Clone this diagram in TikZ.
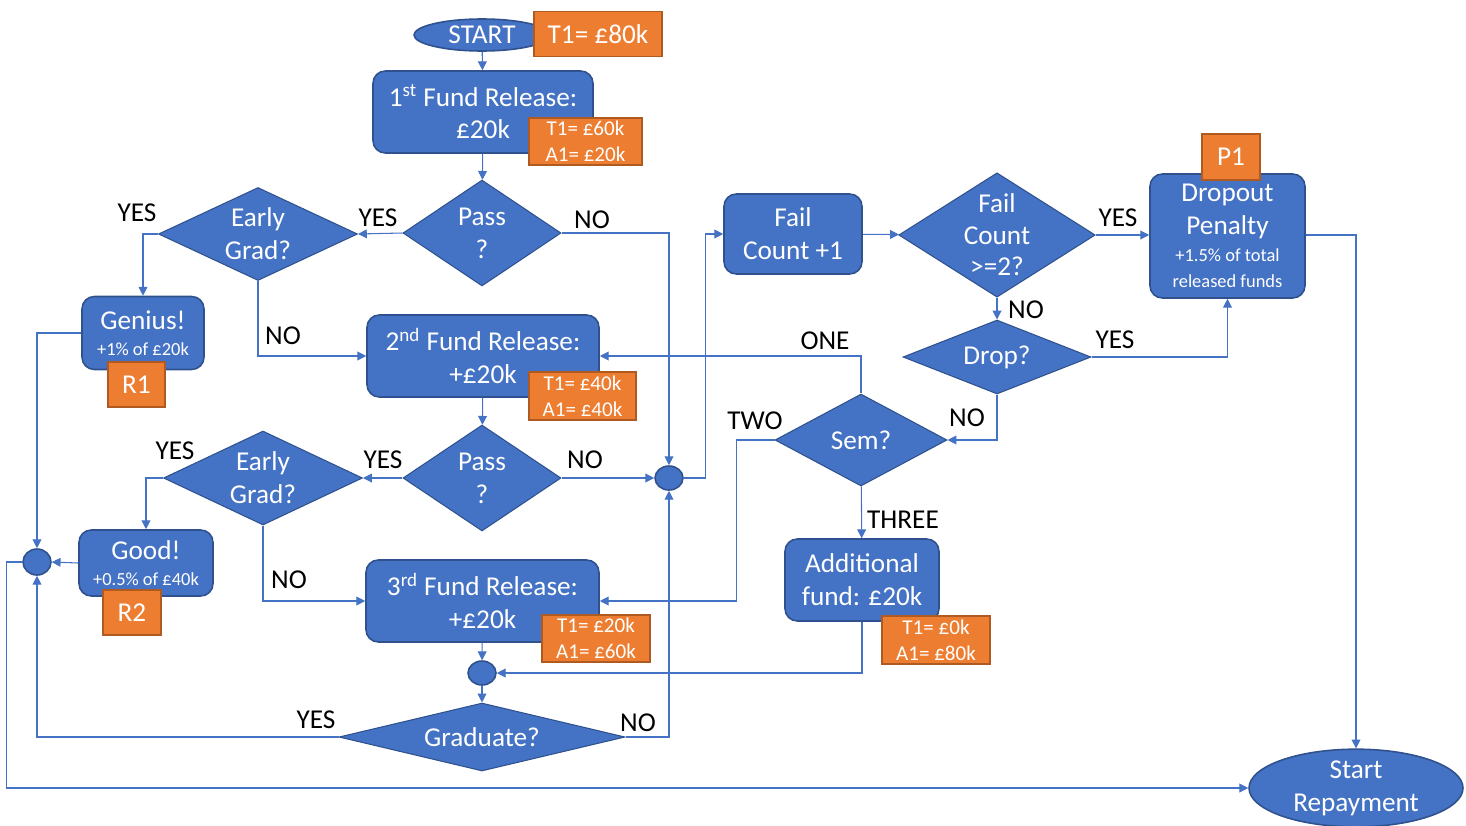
\documentclass[tikz,border=0pt]{standalone}
\usepackage{fontspec}
\setmainfont{Carlito}
\usepackage{tikz}
\usetikzlibrary{shapes.geometric, arrows.meta, positioning, calc}
\definecolor{boxblue}{HTML}{4472C4}
\definecolor{boxedge}{HTML}{2F528F}
\definecolor{tagorange}{HTML}{ED7D31}
\definecolor{tagedge}{HTML}{AE5A21}
\newcommand{\bigtxt}{\fontsize{15.5}{18.7}\selectfont}
\newcommand{\smalltxt}{\fontsize{10.5}{12.5}\selectfont}
\newcommand{\tagtxt}{\fontsize{12}{14.7}\selectfont}

\begin{document}
\begin{tikzpicture}[
  x=0.02cm, y=-0.02cm,
  font=\bigtxt,
  block/.style={rectangle, rounded corners=7pt, draw=boxedge, line width=0.9pt, fill=boxblue, text=white, align=center, inner sep=0pt},
  decision/.style={diamond, draw=boxedge, line width=0.6pt, fill=boxblue, text=white, align=center, inner sep=0pt},
  termin/.style={ellipse, draw=boxedge, line width=0.9pt, fill=boxblue, text=white, align=center, inner sep=0pt},
  mergept/.style={ellipse, draw=boxedge, line width=0.9pt, fill=boxblue, minimum width=0.56cm, minimum height=0.48cm, inner sep=0pt},
  tagbox/.style={rectangle, draw=tagedge, line width=0.9pt, fill=tagorange, text=white, align=center, inner sep=0pt},
  conn/.style={-{Triangle[length=5pt,width=5pt]}, draw=boxblue, line width=0.6pt},
  lbl/.style={text=black, inner sep=0pt}
]
  \useasboundingbox (0,0) rectangle (1466,825);

  % Départ
  \node[termin, minimum width=2.72cm, minimum height=0.64cm] (start) at (482,35) {START};
  \node[tagbox, minimum width=2.56cm, minimum height=0.9cm] (t0) at (598,34) {T1= £80k};

  % Premier versement
  \node[block, minimum width=4.4cm, minimum height=1.64cm] (fund1) at (483,112) {1\textsuperscript{st} Fund Release:\\£20k};
  \node[tagbox, minimum width=2.26cm, minimum height=0.94cm, font=\tagtxt] (tag1) at (585.5,141.5) {T1= £60k\\A1= £20k};
  \node[decision, aspect=1.49, minimum width=3.16cm, minimum height=2.12cm] (pass1) at (482,233) {Pass\\?};
  \node[decision, aspect=2.14, minimum width=3.98cm, minimum height=1.86cm] (eg1) at (258,234) {Early\\Grad?};
  \node[block, minimum width=2.44cm, minimum height=1.46cm] (genius) at (143,333) {Genius!\\[-4pt]{\smalltxt +1\% of £20k}};
  \node[tagbox, minimum width=1.14cm, minimum height=0.9cm] (r1) at (136.5,384.5) {R1};

  % Deuxième versement
  \node[block, minimum width=4.64cm, minimum height=1.64cm] (fund2) at (483,356) {2\textsuperscript{nd} Fund Release:\\+£20k};
  \node[tagbox, minimum width=2.14cm, minimum height=0.96cm, font=\tagtxt] (tag2) at (582.5,396) {T1= £40k\\A1= £40k};
  \node[decision, aspect=1.49, minimum width=3.16cm, minimum height=2.12cm] (pass2) at (482,478) {Pass\\?};
  \node[decision, aspect=2.14, minimum width=3.98cm, minimum height=1.88cm] (eg2) at (263,478) {Early\\Grad?};
  \node[block, minimum width=2.68cm, minimum height=1.32cm] (good) at (146,563) {Good!\\[-4pt]{\smalltxt +0.5\% of £40k}};
  \node[tagbox, minimum width=1.16cm, minimum height=0.9cm] (r2) at (132,612.5) {R2};

  % Troisième versement
  \node[block, minimum width=4.66cm, minimum height=1.64cm] (fund3) at (482.5,601) {3\textsuperscript{rd} Fund Release:\\+£20k};
  \node[tagbox, minimum width=2.16cm, minimum height=0.94cm, font=\tagtxt] (tag3) at (596,638.5) {T1= £20k\\A1= £60k};
  \node[mergept] (merge3) at (482,673) {};
  \node[decision, aspect=4.2, minimum width=5.72cm, minimum height=1.36cm] (grad) at (482,737) {Graduate?};

  % Points de jonction
  \node[mergept, minimum height=0.52cm] (mergeL) at (37,562) {};
  \node[mergept] (mergeM) at (669,478) {};

  % Échecs
  \node[block, minimum width=2.76cm, minimum height=1.6cm] (fail) at (793,234) {Fail\\Count +1};
  \node[decision, aspect=1.58, minimum width=3.88cm, minimum height=2.46cm, font=\fontsize{15.5}{18}\selectfont] (fc2) at (997,235) {Fail\\Count\\>=2?};
  \node[block, minimum width=3.1cm, minimum height=2.48cm] (dropout) at (1227.5,236) {Dropout\\Penalty\\[-3pt]{\smalltxt +1.5\% of total}\\[-4pt]{\smalltxt released funds}};
  \node[tagbox, minimum width=1.16cm, minimum height=0.92cm] (p1) at (1231,157) {P1};
  \node[decision, aspect=2.54, minimum width=3.76cm, minimum height=1.48cm] (drop) at (997,357) {Drop?};
  \node[decision, aspect=1.87, minimum width=3.44cm, minimum height=1.84cm] (sem) at (861,440) {Sem?};
  \node[block, minimum width=3.08cm, minimum height=1.64cm] (addl) at (862,580) {Additional\\fund: £20k};
  \node[tagbox, minimum width=2.16cm, minimum height=0.96cm, font=\tagtxt] (tag4) at (936,640) {T1= £0k\\A1= £80k};

  % Fin
  \node[termin, minimum width=4.28cm, minimum height=1.42cm] (repay) at (1356,788) {Start\\Repayment};

  % Connexions
  \draw[conn] (start) -- (fund1);
  \draw[conn] (fund1) -- (pass1);
  \draw[conn] (pass1.west) -- (eg1.east);
  \draw[conn] (pass1.east) -| (mergeM.north);
  \draw[conn] (eg1.west) -| (genius.north);
  \draw[conn] (eg1.south) |- (fund2.west);
  \draw[conn] (genius.west) -| (mergeL.north);
  \draw[conn] (fund2) -- (pass2);
  \draw[conn] (pass2.west) -- (eg2.east);
  \draw[conn] (pass2.east) -- (mergeM.west);
  \draw[conn] (eg2.west) -| (good.north);
  \draw[conn] (eg2.south) |- (fund3.west);
  \draw[conn] (good.west) -- (mergeL.east);
  \draw[conn] (fund3) -- (merge3);
  \draw[conn] (merge3) -- (grad);
  \draw[conn] (grad.west) -| (mergeL.south);
  \draw[conn] (grad.east) -| (mergeM.south);
  \draw[conn] (mergeM.east) -- ++(22,0) |- (fail.west);
  \draw[conn] (fail) -- (fc2);
  \draw[conn] (fc2.east) -- (dropout.west |- fc2.east);
  \draw[conn] (fc2) -- (drop);
  \draw[conn] (drop.east) -| (dropout.south);
  \draw[conn] (drop.south) |- (sem.east);
  \draw[conn] (sem.north) |- (fund2.east);
  \draw[conn] (sem.west) -- ++(-38,0) |- (fund3.east);
  \draw[conn] (sem) -- (addl);
  \draw[conn] (addl.south) |- (merge3.east);
  \draw[conn] (dropout.east |- fc2.east) -| (repay.north);
  \draw[conn] (mergeL.west) -- ++(-16,0) |- (repay.west);

  % Étiquettes
  \node[lbl] (l1) at (378,218) {YES};
  \node[lbl] (l2) at (592,220) {NO};
  \node[lbl] (l3) at (137,213) {YES};
  \node[lbl] (l4) at (283,336) {NO};
  \node[lbl] (l5) at (383,460) {YES};
  \node[lbl] (l6) at (585,460) {NO};
  \node[lbl] (l7) at (175,451) {YES};
  \node[lbl] (l8) at (289,580) {NO};
  \node[lbl] (l9) at (316,720) {YES};
  \node[lbl] (l10) at (638,723) {NO};
  \node[lbl] (l11) at (1118,218) {YES};
  \node[lbl] (l12) at (1026,310) {NO};
  \node[lbl] (l13) at (1115,340) {YES};
  \node[lbl] (l14) at (967,418) {NO};
  \node[lbl] (l15) at (825,341) {ONE};
  \node[lbl] (l16) at (755,421) {TWO};
  \node[lbl] (l17) at (903,520) {THREE};
\end{tikzpicture}
\end{document}
